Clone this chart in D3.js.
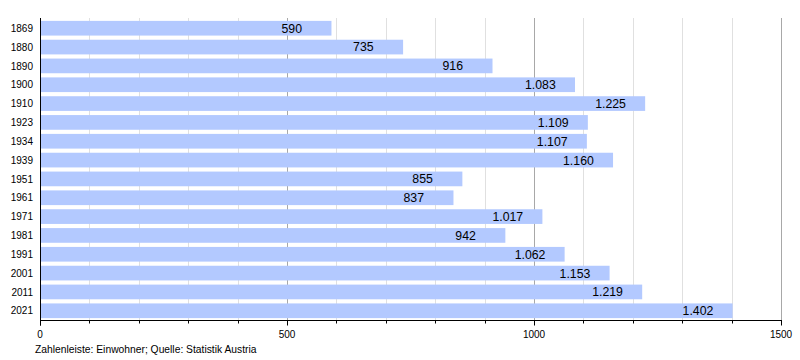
<!DOCTYPE html>
<html><head><meta charset="utf-8">
<script src="https://cdn.jsdelivr.net/npm/d3@7"></script>
<style>body{margin:0;background:#fff;} text{font-family:"Liberation Sans",Arial,sans-serif;}</style>
</head><body>
<svg id="c" width="800" height="360"></svg>
<script>
const years = ["1869","1880","1890","1900","1910","1923","1934","1939","1951","1961","1971","1981","1991","2001","2011","2021"];
const population = [590,735,916,1083,1225,1109,1107,1160,855,837,1017,942,1062,1153,1219,1402];
const valueLabels = ["590","735","916","1.083","1.225","1.109","1.107","1.160","855","837","1.017","942","1.062","1.153","1.219","1.402"];
const majorTicks = [0,500,1000,1500];
const minorTicks = d3.range(0,1501,100);
const caption = "Zahlenleiste: Einwohner; Quelle: Statistik Austria";

const svg = d3.select("#c");
const x = d3.scaleLinear().domain([0,1500]).range([40,781]);
const y = d3.scaleBand().domain(years).range([19,320]).paddingInner(0.22).paddingOuter(0.1);
const axisY = 320.5;

svg.append("g").selectAll("line").data(minorTicks.filter(d=>d%500!==0)).join("line")
  .attr("x1",d=>Math.round(x(d))+0.5).attr("x2",d=>Math.round(x(d))+0.5)
  .attr("y1",18).attr("y2",axisY).attr("stroke","#e0e0e0");
svg.append("g").selectAll("line").data(majorTicks.filter(d=>d>0)).join("line")
  .attr("x1",d=>Math.round(x(d))+0.5).attr("x2",d=>Math.round(x(d))+0.5)
  .attr("y1",18).attr("y2",axisY).attr("stroke","#a8a8a8");

svg.append("g").selectAll("rect").data(years).join("rect")
  .attr("x",x(0)+1).attr("y",d=>y(d))
  .attr("width",(d,i)=>x(population[i])-x(0)-1).attr("height",y.bandwidth())
  .attr("fill","#b3c9ff");

svg.append("g").selectAll("text").data(years).join("text")
  .attr("x",(d,i)=>x(population[i])-50).attr("y",d=>y(d)+y.bandwidth()/2)
  .attr("dy","0.36em").attr("font-size",12.3).attr("fill","#000")
  .text((d,i)=>valueLabels[i]);

svg.append("g").selectAll("text").data(years).join("text")
  .attr("x",33).attr("y",d=>y(d)+y.bandwidth()/2).attr("dy","0.36em")
  .attr("text-anchor","end").attr("font-size",10).attr("fill","#000").text(d=>d);

svg.append("line").attr("x1",40.5).attr("x2",40.5).attr("y1",18).attr("y2",axisY+5).attr("stroke","#000");
svg.append("line").attr("x1",40).attr("x2",Math.round(x(1500))+1).attr("y1",axisY).attr("y2",axisY).attr("stroke","#000");
svg.append("g").selectAll("line").data(minorTicks).join("line")
  .attr("x1",d=>Math.round(x(d))+0.5).attr("x2",d=>Math.round(x(d))+0.5)
  .attr("y1",axisY).attr("y2",d=>d%500===0?axisY+5:axisY+3).attr("stroke","#000");
svg.append("g").selectAll("text").data(majorTicks).join("text")
  .attr("x",d=>x(d)).attr("y",338).attr("text-anchor","middle")
  .attr("font-size",10).attr("fill","#000").text(d=>d);

svg.append("text").attr("x",35).attr("y",353).attr("font-size",10.3).attr("fill","#000").text(caption);
</script>
</body></html>
